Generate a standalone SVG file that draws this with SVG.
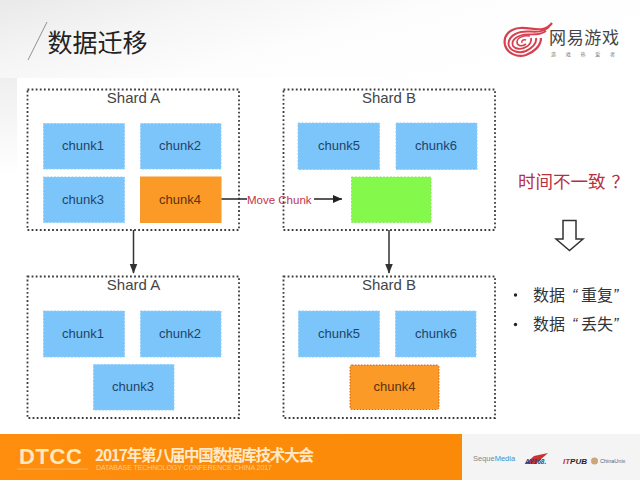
<svg xmlns="http://www.w3.org/2000/svg" width="640" height="480" viewBox="0 0 640 480">
<defs>
<style>
.t{font-family:"Liberation Sans","Noto Sans CJK SC",sans-serif}
.c{font-family:"Noto Sans CJK SC","Liberation Sans",sans-serif}
.shard{fill:#fff;stroke:#3c3c3c;stroke-width:1.8;stroke-dasharray:1.8 2.3}
.blue{fill:#7cc5fb;stroke:#8fcdf8;stroke-width:1;stroke-dasharray:2 1.5}
.orange{fill:#fb9a26;stroke:#f39a30;stroke-width:1}
.lbl{font-size:13px;fill:#1f4466;text-anchor:middle}
.olbl{font-size:13px;fill:#5c3210;text-anchor:middle}
.title{font-size:15px;fill:#444;text-anchor:middle}
.conn{stroke:#333;stroke-width:1.5;fill:none}
.side{font-size:16px;fill:#333}
</style>
<linearGradient id="bg" x1="0" y1="0" x2="1" y2="0.45">
<stop offset="0" stop-color="#e9e9e9"/><stop offset="0.3" stop-color="#f5f5f5"/><stop offset="0.6" stop-color="#fdfdfd"/><stop offset="1" stop-color="#fff"/>
</linearGradient>
<linearGradient id="lf" x1="0" y1="0" x2="0" y2="1">
<stop offset="0" stop-color="#efefef"/><stop offset="1" stop-color="#fff"/>
</linearGradient>
<linearGradient id="ft" x1="0" y1="0" x2="1" y2="0">
<stop offset="0" stop-color="#ff8d0e"/><stop offset="1" stop-color="#fb8a08"/>
</linearGradient>
<marker id="ah" markerWidth="10" markerHeight="10" refX="9" refY="4" orient="auto" markerUnits="userSpaceOnUse">
<path d="M0 0L9 4L0 8Z" fill="#222"/>
</marker>
<marker id="ad" markerWidth="10" markerHeight="14" refX="12" refY="5" orient="auto" markerUnits="userSpaceOnUse" viewBox="0 0 13 10">
<path d="M0 0L13 5L0 10Z" fill="#333"/>
</marker>
</defs>
<rect width="640" height="480" fill="#fff"/>
<rect width="640" height="78" fill="url(#bg)"/>
<rect y="78" width="17" height="100" fill="url(#lf)"/>
<g id="header">
<path d="M47 22L28 60" stroke="#777" stroke-width="0.8" fill="none"/>
<text class="c" x="47.500" y="52" font-size="25" fill="#222">数据迁移</text>
</g>
<g id="logo">
<g fill="none" stroke="#d8404f">
<path d="M552 23C544 34 532 27 520 28C509 29 503 36 505 45C507 53 517 58 526 55C534 52 541 46 541 38" stroke-width="2.200"/>
<path d="M549 27C540 35 530 30 521 32C512 34 507 40 509 46C511 51 519 54 526 51C532 48 537 43 536 38" stroke-width="2"/>
<path d="M546 31C538 37 529 33 522 35C515 37 511 41 513 46C515 49 521 50 526 47C530 45 532 41 531 38" stroke-width="1.800"/>
<path d="M530 36C523 35 517 38 517 42C517 46 522 47 526 44" stroke-width="1.600"/>
<path d="M526 40C523 39 521 41 522 43" stroke-width="1.400"/>
</g>
<text class="c" x="549" y="44" font-size="17" fill="#444" textLength="70">网易游戏</text>
<text class="c" x="551" y="56" font-size="5" fill="#777" textLength="64">游 戏 热 爱 者</text>
</g>
<g id="shard-a-top">
<rect class="shard" x="27.500" y="89.500" width="211.500" height="140.500"/>
<text class="t title" x="133.500" y="103">Shard A</text>
</g>
<g id="shard-b-top">
<rect class="shard" x="283.500" y="89.500" width="211.500" height="140.500"/>
<text class="t title" x="389" y="103">Shard B</text>
</g>
<g id="shard-a-bottom">
<rect class="shard" x="27.500" y="276.500" width="211.500" height="141.500"/>
<text class="t title" x="133.500" y="290">Shard A</text>
</g>
<g id="shard-b-bottom">
<rect class="shard" x="283.500" y="276.500" width="211.500" height="141.500"/>
<text class="t title" x="389" y="290">Shard B</text>
</g>
<g id="a1"><rect class="blue" x="43.500" y="123.500" width="81" height="45.500"/><text class="t lbl" x="83" y="150">chunk1</text></g>
<g id="a2"><rect class="blue" x="140.500" y="123.500" width="80.500" height="45.500"/><text class="t lbl" x="180" y="150">chunk2</text></g>
<g id="a3"><rect class="blue" x="43.500" y="177" width="81" height="45.500"/><text class="t lbl" x="83" y="204">chunk3</text></g>
<g id="a4"><rect class="orange" x="140.500" y="177" width="80.500" height="45.500"/><text class="t olbl" x="180" y="204">chunk4</text></g>
<g id="b5"><rect class="blue" x="298" y="123" width="81.500" height="46.500"/><text class="t lbl" x="339" y="150">chunk5</text></g>
<g id="b6"><rect class="blue" x="396" y="123" width="81" height="46.500"/><text class="t lbl" x="436" y="150">chunk6</text></g>
<g id="green"><rect x="351.500" y="177" width="79.500" height="45.500" fill="#84f94c" stroke="#8fe565" stroke-dasharray="2 1.500"/></g>
<g id="a1b"><rect class="blue" x="43.500" y="311" width="81" height="46"/><text class="t lbl" x="83" y="338">chunk1</text></g>
<g id="a2b"><rect class="blue" x="140.500" y="311" width="80.500" height="46"/><text class="t lbl" x="180" y="338">chunk2</text></g>
<g id="a3b"><rect class="blue" x="93.500" y="364.500" width="80.500" height="45.500"/><text class="t lbl" x="133" y="391">chunk3</text></g>
<g id="b5b"><rect class="blue" x="298.500" y="311" width="81" height="46"/><text class="t lbl" x="339" y="338">chunk5</text></g>
<g id="b6b"><rect class="blue" x="395.500" y="311" width="80.500" height="46"/><text class="t lbl" x="436" y="338">chunk6</text></g>
<g id="b4b"><rect x="350" y="365" width="89" height="44.500" rx="2" fill="#fb9a26" stroke="#c9642a" stroke-width="1" stroke-dasharray="1.500 1.500"/><text class="t olbl" x="394.500" y="391">chunk4</text></g>
<g id="connectors">
<path class="conn" d="M133.500 230V273" marker-end="url(#ad)"/>
<path class="conn" d="M389 230V273" marker-end="url(#ad)"/>
<path d="M221.500 199H247" stroke="#222" stroke-width="1.500" fill="none"/>
<path d="M314 199H342" stroke="#222" stroke-width="1.500" fill="none" marker-end="url(#ah)"/>
<text class="t" x="247" y="203.500" font-size="11.500" fill="#c0344a">Move Chunk</text>
</g>
<g id="side">
<text class="c" x="518" y="188" font-size="17.500" fill="#b8303e">时间不一致<tspan dx="6">？</tspan></text>
<path d="M563 220.500H576V239H583L569.500 250.500L556 239H563Z" fill="#fff" stroke="#333" stroke-width="1.500"/>
<circle cx="515.500" cy="295" r="1.700" fill="#222"/>
<text class="c side" x="533" y="301">数据</text>
<text class="t side" x="572" y="301" font-style="italic">“</text>
<text class="c side" x="581" y="301">重复</text>
<text class="t side" x="613" y="301" font-style="italic">”</text>
<circle cx="515.500" cy="324.500" r="1.700" fill="#222"/>
<text class="c side" x="533" y="330">数据</text>
<text class="t side" x="572" y="330" font-style="italic">“</text>
<text class="c side" x="581" y="330">丢失</text>
<text class="t side" x="613" y="330" font-style="italic">”</text>
</g>
<g id="footer">
<rect y="434" width="462" height="46" fill="url(#ft)"/>
<rect x="462" y="434" width="178" height="46" fill="#f4f4f4"/>
<text class="t" x="19" y="464" font-size="22" font-weight="bold" fill="#ffe9bd" textLength="63">DTCC</text>
<path d="M17 469H88" stroke="#ffc98a" stroke-width="0.600"/>
<text class="c" x="95" y="461" font-size="15.500" font-weight="bold" fill="#ffe9c8" textLength="219">2017年第八届中国数据库技术大会</text>
<text class="t" x="96" y="470" font-size="7" fill="#fdc98a" textLength="176">DATABASE  TECHNOLOGY  CONFERENCE CHINA 2017</text>
<text class="t" x="473" y="461" font-size="7.500" fill="#888">Seque<tspan fill="#3f8fc9">Media</tspan></text>
<path d="M525 464L534 456L548 453L540 460L536 464Z" fill="#c8322f"/>
<text class="t" x="525" y="464" font-size="6.500" font-weight="bold" font-style="italic" fill="#2b3e7a">AY168.</text>
<text class="t" x="563" y="464" font-size="8" font-weight="bold" font-style="italic" fill="#222"><tspan fill="#c8322f">IT</tspan>PUB</text>
<circle cx="594.500" cy="461" r="3.500" fill="#c9a77a"/>
<text class="t" x="600" y="463" font-size="5.500" fill="#4a6a8a">ChinaUnix</text>
</g>
</svg>
